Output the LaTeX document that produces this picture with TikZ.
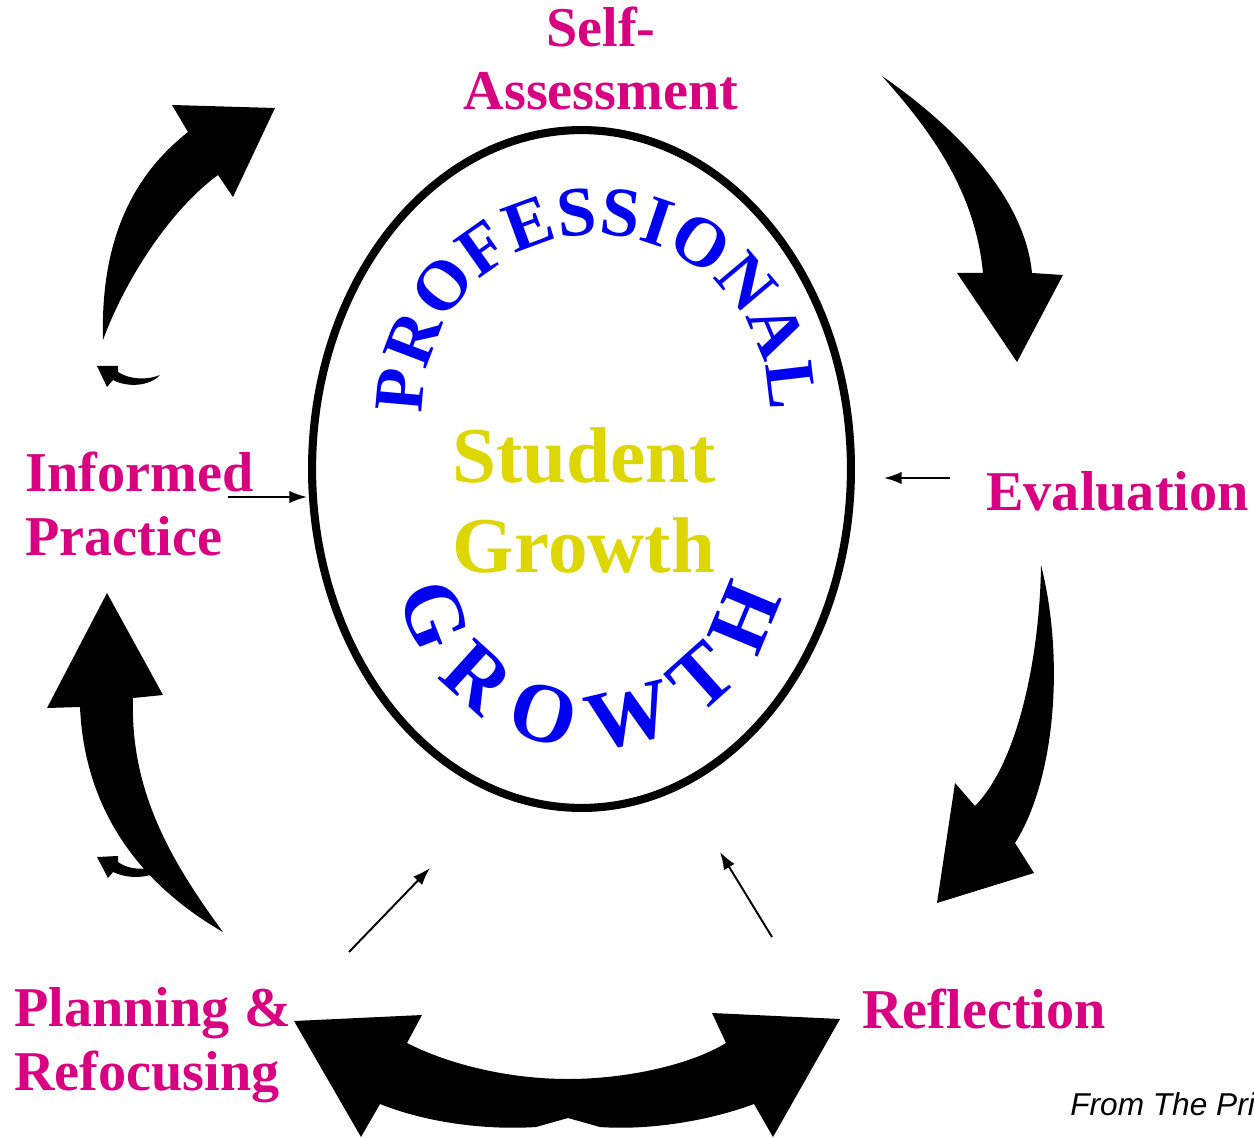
\documentclass[tikz,border=0pt]{standalone}
\usepackage{fontspec}
\setmainfont{Liberation Serif}
\newfontfamily\creditfont{Liberation Sans}
\usetikzlibrary{shapes.geometric,decorations.text,arrows.meta}
\tikzset{>=latex}
\usepackage{xcolor}
\definecolor{stagepink}{RGB}{216,0,128}
\definecolor{coreyellow}{RGB}{222,214,0}
\colorlet{ringblue}{blue!94!black}
\tikzstyle{stage}=[font=\bfseries\fontsize{32}{36}\selectfont,text=stagepink,align=left,inner sep=0,anchor=base west]
\tikzstyle{bigarrow}=[fill=black]
\tikzstyle{pointer}=[-{Latex[length=10pt,width=7pt]},line width=1.1pt]

\begin{document}
\begin{tikzpicture}[x=0.02cm,y=-0.02cm]
 \useasboundingbox (0,0) rectangle (1254,1138);
 % ring with the curved words
 \node[draw,ellipse,line width=4.6pt,minimum width=10.78cm,minimum height=13.56cm,inner sep=0] (ring) at (581.5,469) {};
 \path[decorate,decoration={text along path,text align=fit to path,
   text={|\bfseries\fontsize{40}{40}\selectfont\color{ringblue}|PROFESSIONAL}}]
   (596,408) ++(178:173) arc[start angle=178,end angle=361,radius=173];
 \path[decorate,decoration={text along path,text align=fit to path,
   text={|\bfseries\fontsize{48}{48}\selectfont\color{ringblue}|GROWTH}}]
   (590,553) ++(168:195) arc[start angle=168,end angle=13,radius=195];
 \node[font=\bfseries\fontsize{45}{51}\selectfont,text=coreyellow,align=center,inner sep=0,anchor=base] (core) at (584,572) {Student\\Growth};
 %
 \node[stage,align=center,anchor=base] (self) at (601,110) {Self-\\Assessment};
 \node[stage] (inform) at (25,555) {Informed\\Practice};
 \node[stage] (evalu) at (986,510) {Evaluation};
 \node[stage] (plan) at (14,1090) {Planning \&\\Refocusing};
 \node[stage] (refl) at (862,1028) {Reflection};
 \node[font=\creditfont\itshape\fontsize{18}{18}\selectfont,anchor=base west,inner sep=0] (credit) at (1070,1115) {From The Pri};
 %
 % block arrows of the cycle
 \fill[bigarrow] (103,340) .. controls (100,230) and (140,170) .. (188,132) -- (172,105) -- (275,108) -- (233,197) -- (218,175) .. controls (170,210) and (125,280) .. cycle;
 \fill[bigarrow] (882,76) .. controls (960,130) and (1025,200) .. (1032,273) -- (1063,275) -- (1017,362) -- (957,273) -- (983,273) .. controls (975,190) and (930,130) .. cycle;
 \fill[bigarrow] (1041,565) .. controls (1065,660) and (1055,780) .. (1015,843) -- (1034,873) -- (937,903) -- (955,783) -- (975,806) .. controls (1020,760) and (1040,650) .. cycle;
 \fill[bigarrow] (223,932) .. controls (150,890) and (85,820) .. (80,707) -- (47,708) -- (107,593) -- (163,695) -- (133,698) .. controls (130,790) and (170,860) .. cycle;
 \fill[bigarrow] (407,1043) .. controls (450,1065) and (510,1079) .. (568,1079) .. controls (626,1079) and (690,1065) .. (726,1043) -- (712,1013) -- (840,1019) -- (773,1137) -- (754,1104) .. controls (700,1124) and (640,1130) .. (600,1127) -- (568,1118) -- (536,1127) .. controls (490,1130) and (430,1124) .. (380,1104) -- (361,1137) -- (294,1021) -- (422,1015) -- cycle;
 % little hooks
 \fill[bigarrow] (160,375) .. controls (148,380) and (130,380) .. (118,372) -- (118,366) -- (97,366) -- (107,387) -- (113,380) .. controls (128,388) and (150,386) .. cycle;
 \fill[bigarrow] (150,868) .. controls (138,870) and (126,868) .. (118,862) -- (118,856) -- (97,857) -- (108,878) -- (113,872) .. controls (126,878) and (140,878) .. (150,875) -- cycle;
 %
 \coordinate (inf-tail) at (228,497); \coordinate (inf-tip) at (307,497);
 \coordinate (eva-tail) at (950,478); \coordinate (eva-tip) at (884,478);
 \coordinate (plan-tail) at (349,952); \coordinate (plan-tip) at (430,868);
 \coordinate (refl-tail) at (772,937); \coordinate (refl-tip) at (720,852);
 \foreach \s in {inf,eva,plan,refl}
  \draw[pointer] (\s-tail) -- (\s-tip);
\end{tikzpicture}
\end{document}
